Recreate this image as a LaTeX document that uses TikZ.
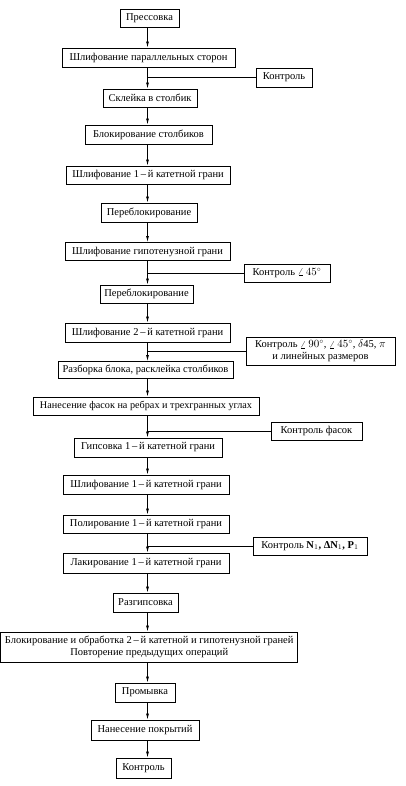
\documentclass[tikz,border=0pt]{standalone}
\usepackage{fontspec}
\setmainfont{Liberation Serif}
\usetikzlibrary{arrows.meta}
\begin{document}
\begin{tikzpicture}[x=1pt,y=-1pt,
  box/.style={draw, line width=0.9pt, inner sep=0pt, align=center,
    font=\fontsize{10.5}{11.5}\selectfont},
  smallbox/.style={box, font=\fontsize{10.2}{11}\selectfont},
  arr/.style={-{Latex[length=6pt,width=3pt]}, line width=0.8pt},
  ln/.style={line width=0.8pt}]
\useasboundingbox (0,0) rectangle (406,786);
\coordinate (ax) at (147.5,0);
\node[box, minimum width=59pt,  minimum height=18pt] (n1)  at (149.5,18)   {Прессовка};
\node[box, minimum width=173pt, minimum height=19pt] (n2)  at (148.5,57.5) {Шлифование параллельных сторон};
\node[box, minimum width=56pt,  minimum height=19pt] (c1)  at (284,77.5)   {Контроль};
\node[box, minimum width=94pt,  minimum height=18pt] (n3)  at (150,98)     {Склейка в столбик};
\node[box, minimum width=127pt, minimum height=19pt] (n4)  at (148.5,134.5){Блокирование столбиков};
\node[box, minimum width=164pt, minimum height=18pt] (n5)  at (148,175)    {Шлифование 1\,--\,й катетной грани};
\node[box, minimum width=96pt,  minimum height=19pt] (n6)  at (149,212.5)  {Переблокирование};
\node[box, minimum width=165pt, minimum height=18pt] (n7)  at (147.5,251.5){Шлифование гипотенузной грани};
\node[box, minimum width=86pt,  minimum height=18pt] (c2)  at (287,273)    {Контроль $\angle\,45^\circ$};
\node[box, minimum width=93pt,  minimum height=18pt] (n8)  at (146.5,294)  {Переблокирование};
\node[box, minimum width=165pt, minimum height=19pt] (n9)  at (147.5,332.5){Шлифование 2\,--\,й катетной грани};
\node[box, minimum width=149pt, minimum height=28pt] (c3)  at (320.5,351)  {Контроль $\angle\,90^\circ$, $\angle\,45^\circ$, $\delta$45, $\pi$\\и линейных размеров};
\node[box, minimum width=175pt, minimum height=17pt] (n10) at (145.5,370)  {Разборка блока, расклейка столбиков};
\node[smallbox, minimum width=226pt, minimum height=18pt] (n11) at (146,406)    {Нанесение фасок на ребрах и трехгранных углах};
\node[box, minimum width=91pt,  minimum height=18pt] (c4)  at (316.5,431)  {Контроль фасок};
\node[box, minimum width=148pt, minimum height=19pt] (n12) at (148,447.5)  {Гипсовка 1\,--\,й катетной грани};
\node[box, minimum width=166pt, minimum height=19pt] (n13) at (146,484.5)  {Шлифование 1\,--\,й катетной грани};
\node[box, minimum width=166pt, minimum height=18pt] (n14) at (146,524)    {Полирование 1\,--\,й катетной грани};
\node[box, minimum width=114pt, minimum height=18pt] (c5)  at (310,546)    {Контроль \textbf{N$_1$, ΔN$_1$, P$_1$}};
\node[box, minimum width=166pt, minimum height=20pt] (n15) at (146,563)    {Лакирование 1\,--\,й катетной грани};
\node[box, minimum width=65pt,  minimum height=19pt] (n16) at (145.5,602.5){Разгипсовка};
\node[box, minimum width=297pt, minimum height=30pt] (n17) at (149.25,647) {Блокирование и обработка 2\,--\,й катетной и гипотенузной граней\\Повторение предыдущих операций};
\node[box, minimum width=60pt,  minimum height=19pt] (n18) at (145,692.5)  {Промывка};
\node[box, minimum width=108pt, minimum height=20pt] (n19) at (145,730)    {Нанесение покрытий};
\node[box, minimum width=55pt,  minimum height=20pt] (n20) at (143.5,768)  {Контроль};
\foreach \a/\b in {n1/n2,n2/n3,n3/n4,n4/n5,n5/n6,n6/n7,n7/n8,n8/n9,n9/n10,n10/n11,n11/n12,n12/n13,n13/n14,n14/n15,n15/n16,n16/n17,n17/n18,n18/n19,n19/n20}
  \draw[arr] (\a.south -| ax) -- (\b.north -| ax);
\foreach \c in {c1,c2,c3,c4,c5}
  \draw[ln] (\c.west) -- (\c.west -| ax);
\end{tikzpicture}
\end{document}
